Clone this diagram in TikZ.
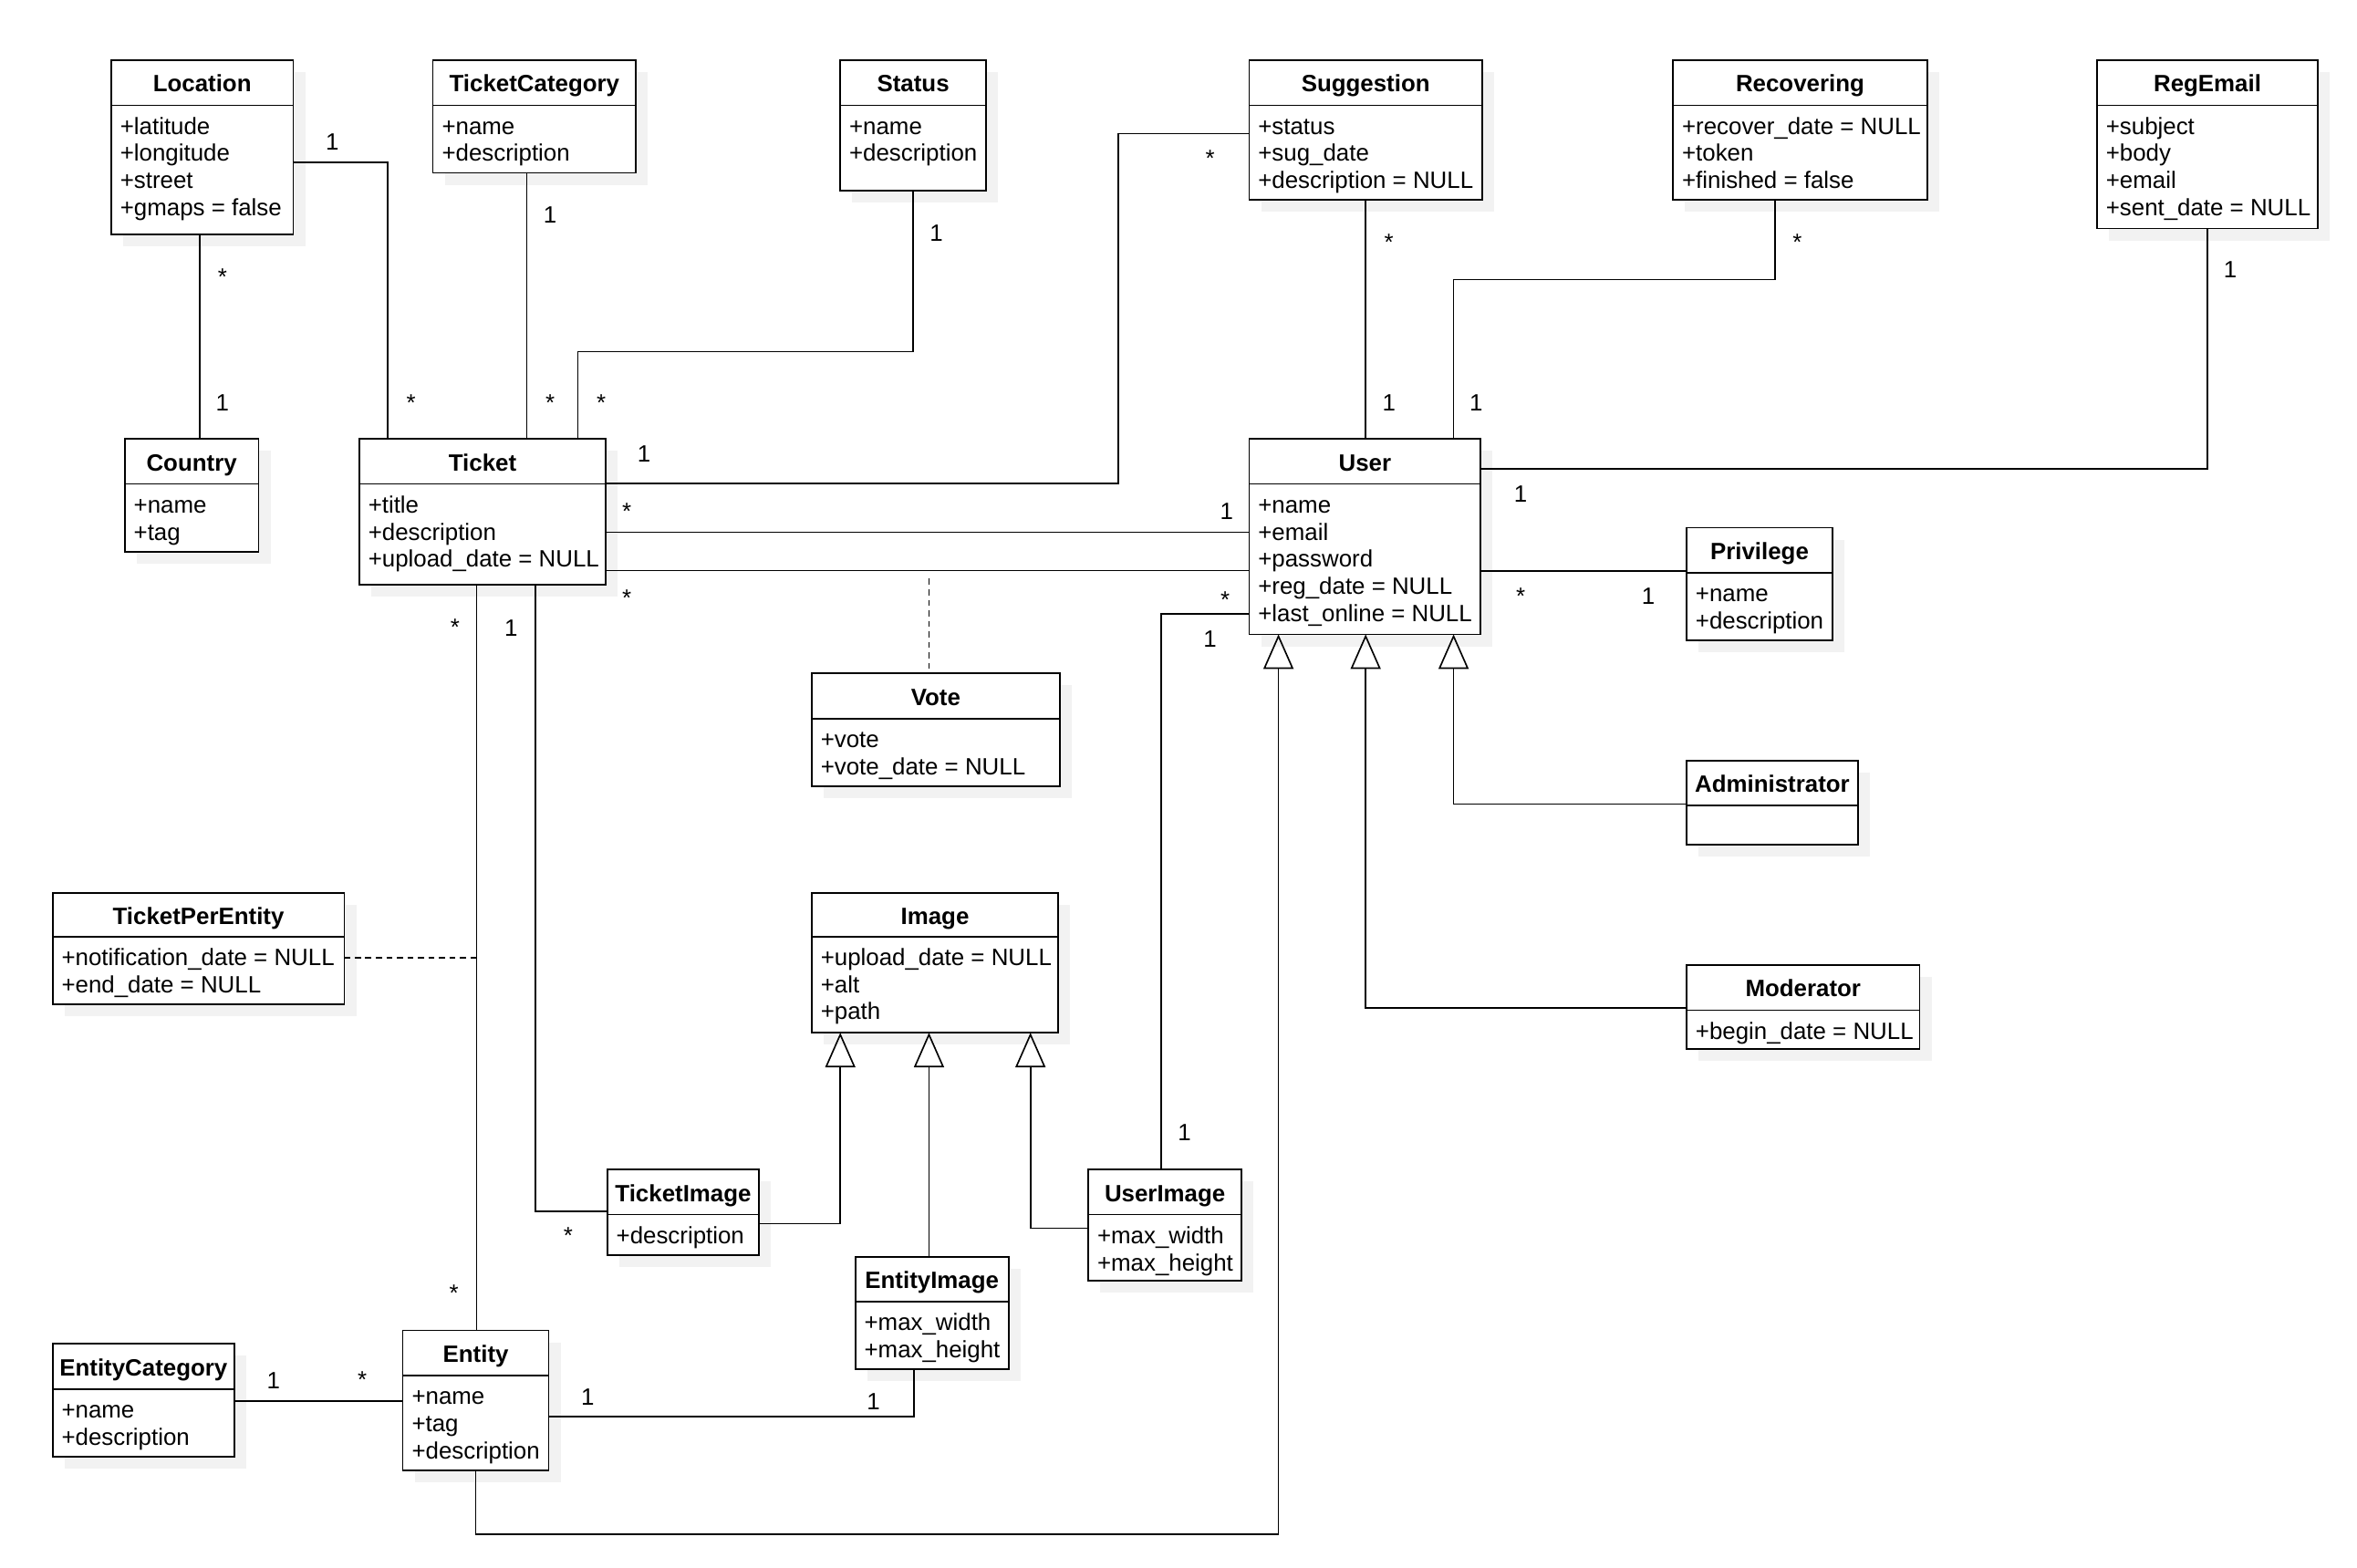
\documentclass[tikz,border=0pt]{standalone}
\usepackage{fontspec}
\setmainfont{Liberation Sans}
\usetikzlibrary{arrows.meta}

\definecolor{shadowgray}{HTML}{F2F2F2}

\tikzset{
  umltext/.style={font=\fontsize{15.7}{18}\selectfont, inner sep=0pt, outer sep=0pt},
  classbox/.style={draw=black, fill=white, line width=1pt, inner sep=0pt, outer sep=0pt},
  boxline/.style={draw=black, line width=1pt},
  boxshadow/.style={fill=shadowgray},
  classtitle/.style={umltext, anchor=base, font=\fontsize{15.7}{18}\selectfont\bfseries},
  classattr/.style={umltext, anchor=base west},
  mult/.style={umltext, anchor=base},
  assoc/.style={draw=black, line width=1pt},
  assocclass/.style={draw=black, line width=1pt, dash pattern=on 4pt off 3pt},
  generalize/.style={draw=black, line width=1pt,
    -{Triangle[open, length=23pt, width=20pt]}},
}

% class box: name, x1, y1, x2, y2, divider y, title, attributes
\newcommand{\umlclass}[8]{%
  \fill[boxshadow] (#2+8,#3+8) rectangle (#4+8,#5+8);
  \node[classbox, minimum width={#4-#2}, minimum height={#5-#3}] (#1)
    at ({(#2+#4)/2},{(#3+#5)/2}) {};
  \draw[boxline] (#2,#6) -- (#4,#6);
  \node[classtitle] (#1-title) at ({(#2+#4)/2},{(#3+#6)/2+6.2}) {#7};
  \if\relax\detokenize{#8}\relax\else
    \foreach \attr [count=\k] in {#8} {%
      \node[classattr] (#1-attr-\k) at (#2+6,{#6+19.3+(\k-1)*18}) {\attr};
    }%
  \fi
}
% multiplicity labels, placed by their visual centre
\newcommand{\mlone}[3]{\node[mult] (#1) at (#2,{#3+5.6}) {1};}
\newcommand{\mlmany}[3]{\node[mult] (#1) at (#2,{#3+7.5}) {*};}

\begin{document}
\begin{tikzpicture}[x=1pt, y=-1pt]
\fill[white] (0,0) rectangle (1568,1043);
\useasboundingbox (0,0) rectangle (1568,1043);

% ---------- classes ----------
\umlclass{loc}{74}{40}{195}{156}{70}{Location}{+latitude,+longitude,+street,+gmaps = false}
\umlclass{tcat}{288}{40}{423}{115}{70}{TicketCategory}{+name,+description}
\umlclass{status}{559}{40}{656}{127}{70}{Status}{+name,+description}
\umlclass{sugg}{831}{40}{986}{133}{70}{Suggestion}{+status,+sug\_date,+description = NULL}
\umlclass{recov}{1113}{40}{1282}{133}{70}{Recovering}{+recover\_date = NULL,+token,+finished = false}
\umlclass{regm}{1395}{40}{1542}{152}{70}{RegEmail}{+subject,+body,+email,+sent\_date = NULL}
\umlclass{country}{83}{292}{172}{367}{322}{Country}{+name,+tag}
\umlclass{ticket}{239}{292}{403}{389}{322}{Ticket}{+title,+description,+upload\_date = NULL}
\umlclass{user}{831}{292}{985}{422}{322}{User}{+name,+email,+password,+reg\_date = NULL,+last\_online = NULL}
\umlclass{priv}{1122}{351}{1219}{426}{381}{Privilege}{+name,+description}
\umlclass{vote}{540}{448}{705}{523}{478}{Vote}{+vote,+vote\_date = NULL}
\umlclass{admin}{1122}{506}{1236}{562}{536}{Administrator}{}
\umlclass{moder}{1122}{642}{1277}{698}{672}{Moderator}{+begin\_date = NULL}
\umlclass{tpe}{35}{594}{229}{668}{623}{TicketPerEntity}{+notification\_date = NULL,+end\_date = NULL}
\umlclass{img}{540}{594}{704}{687}{623}{Image}{+upload\_date = NULL,+alt,+path}
\umlclass{timg}{404}{778}{505}{835}{808}{TicketImage}{+description}
\umlclass{uimg}{724}{778}{826}{852}{808}{UserImage}{+max\_width,+max\_height}
\umlclass{eimg}{569}{836}{671}{911}{866}{EntityImage}{+max\_width,+max\_height}
\umlclass{ecat}{35}{894}{156}{969}{924}{EntityCategory}{+name,+description}
\umlclass{entity}{268}{885}{365}{978}{915}{Entity}{+name,+tag,+description}

% ---------- routing points ----------
\coordinate (locCountry) at (133,0);
\coordinate (locTicket) at (258,108);
\coordinate (tcatTicket) at (350.5,0);
\coordinate (statusBend) at (384.5,234);
\coordinate (suggLow) at (744,321.5);
\coordinate (suggHigh) at (744,89);
\coordinate (ticketUserA) at (0,354);
\coordinate (ticketUserB) at (0,379.5);
\coordinate (voteLink) at (618,385);
\coordinate (userImgBend) at (772.5,408.5);
\coordinate (suggUser) at (908.5,0);
\coordinate (recovTop) at (1181,186);
\coordinate (recovBend) at (967,186);
\coordinate (regmBend) at (1468.5,312);
\coordinate (privLink) at (0,380);
\coordinate (adminBend) at (967,535);
\coordinate (moderBend) at (908.5,670.5);
\coordinate (entityLow) at (316.5,1020.5);
\coordinate (entityUp) at (850.5,1020.5);
\coordinate (timgBend) at (559,814);
\coordinate (eimgLink) at (618,0);
\coordinate (uimgBend) at (685.5,817);
\coordinate (ticketTimg) at (356,806);
\coordinate (ticketEntity) at (317,0);
\coordinate (tpeLink) at (317,637);
\coordinate (ecatLink) at (0,932);
\coordinate (eimgBend) at (608,942.5);

% ---------- associations ----------
\draw[assoc] (loc.south -| locCountry) -- (country.north -| locCountry);
\draw[assoc] (loc.east |- locTicket) -- (locTicket) -- (ticket.north -| locTicket);
\draw[assoc] (tcat.south -| tcatTicket) -- (ticket.north -| tcatTicket);
\draw[assoc] (status.south |- status.south) -- (status.south |- statusBend) -- (statusBend) -- (ticket.north -| statusBend);
\draw[assoc] (ticket.east |- suggLow) -- (suggLow) -- (suggHigh) -- (sugg.west |- suggHigh);
\draw[assoc] (ticket.east |- ticketUserA) -- (user.west |- ticketUserA);
\draw[assoc] (ticket.east |- ticketUserB) -- (user.west |- ticketUserB);
\draw[assocclass] (voteLink) -- (vote.north -| voteLink);
\draw[assoc] (user.west |- userImgBend) -- (userImgBend) -- (uimg.north -| userImgBend);
\draw[assoc] (sugg.south -| suggUser) -- (user.north -| suggUser);
\draw[assoc] (recov.south -| recovTop) -- (recovTop) -- (recovBend) -- (user.north -| recovBend);
\draw[assoc] (regm.south) -- (regmBend) -- (user.east |- regmBend);
\draw[assoc] (user.east |- privLink) -- (priv.west |- privLink);
\draw[assoc] (ticket.south -| ticketTimg) -- (ticketTimg) -- (timg.west |- ticketTimg);
\draw[assoc] (ticket.south -| ticketEntity) -- (entity.north -| ticketEntity);
\draw[assocclass] (tpe.east |- tpeLink) -- (tpeLink);
\draw[assoc] (ecat.east |- ecatLink) -- (entity.west |- ecatLink);
\draw[assoc] (entity.east |- eimgBend) -- (eimgBend) -- (eimg.south -| eimgBend);

% ---------- generalizations ----------
\draw[generalize] (admin.west |- adminBend) -- (adminBend) -- (user.south -| adminBend);
\draw[generalize] (moder.west |- moderBend) -- (moderBend) -- (user.south -| moderBend);
\draw[generalize] (entity.south -| entityLow) -- (entityLow) -- (entityUp) -- (user.south -| entityUp);
\draw[generalize] (timg.east |- timgBend) -- (timgBend) -- (img.south -| timgBend);
\draw[generalize] (eimg.north -| eimgLink) -- (img.south -| eimgLink);
\draw[generalize] (uimg.west |- uimgBend) -- (uimgBend) -- (img.south -| uimgBend);

% ---------- multiplicities ----------
\mlone{m-loc-t}{221}{94}
\mlmany{m-loc-c}{148}{182}
\mlone{m-country}{148}{268}
\mlmany{m-ticket-loc}{273.5}{266}
\mlone{m-tcat}{366}{143}
\mlmany{m-ticket-tcat}{366}{266}
\mlone{m-status}{623}{155}
\mlmany{m-ticket-status}{400}{266}
\mlone{m-ticket-sugg}{428.5}{302}
\mlmany{m-sugg-ticket}{805}{103}
\mlmany{m-ticket-userA}{417}{338}
\mlone{m-user-ticketA}{816}{340}
\mlmany{m-ticket-userB}{417}{395.5}
\mlmany{m-user-ticketB}{815}{396.7}
\mlone{m-user-uimg}{805}{425}
\mlone{m-uimg-user}{788}{753}
\mlmany{m-sugg-user}{924}{159}
\mlone{m-user-sugg}{924}{268}
\mlmany{m-recov-user}{1195.6}{159}
\mlone{m-user-recov}{982}{268}
\mlone{m-regm-user}{1483.6}{179}
\mlone{m-user-regm}{1011.6}{328.3}
\mlmany{m-user-priv}{1011.6}{394.8}
\mlone{m-priv-user}{1096.5}{396.7}
\mlmany{m-ticket-entity}{302.7}{415}
\mlone{m-ticket-timg}{340}{417.5}
\mlmany{m-timg-ticket}{378}{820}
\mlmany{m-entity-ticket}{302}{858}
\mlone{m-ecat-entity}{182}{918}
\mlmany{m-entity-ecat}{241}{916}
\mlone{m-entity-eimg}{391}{929}
\mlone{m-eimg-entity}{581}{932}
\end{tikzpicture}
\end{document}
